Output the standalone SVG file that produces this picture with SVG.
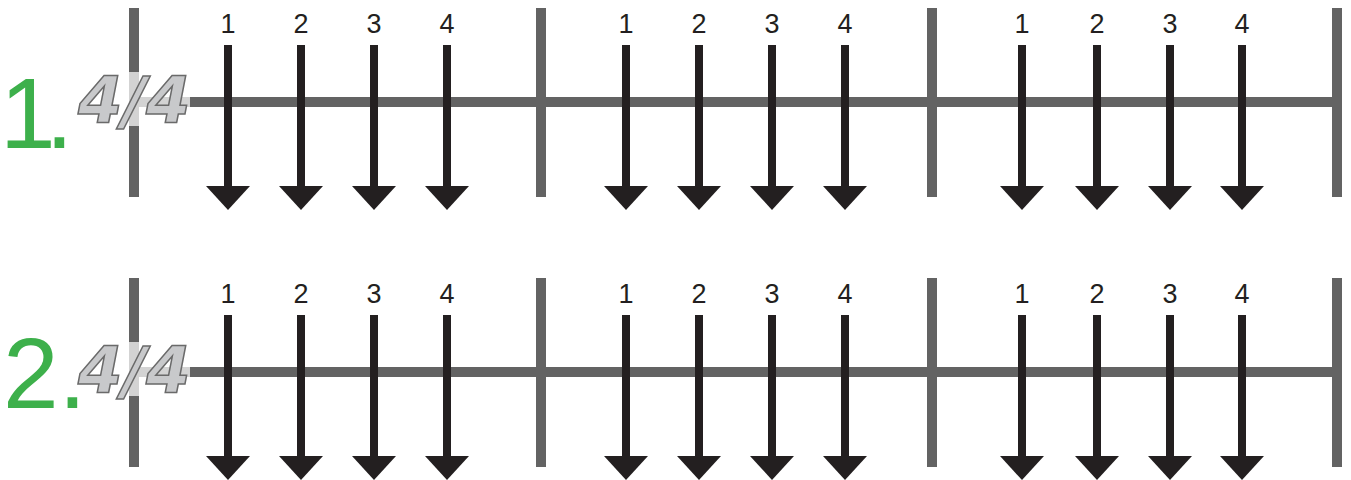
<svg xmlns="http://www.w3.org/2000/svg" width="1351" height="480" viewBox="0 0 1351 480">
<style>
.bar{stroke:#636363;stroke-width:10;fill:none}
.shaft{stroke:#231f20;stroke-width:8}
.head{fill:#231f20}
.num{font-family:"Liberation Sans",Arial,sans-serif;font-size:27px;fill:#231f20;text-anchor:middle}
.ts{font-family:"DejaVu Sans",sans-serif;font-weight:bold;font-style:oblique;font-size:64px;fill:#c8c9cb;stroke:#6a6a6a;stroke-width:1.5}
.lab{font-family:"Liberation Sans",Arial,sans-serif;font-size:100px;fill:#3db04b}
</style>
<defs>
<g id="arrow">
<line class="shaft" x1="0" y1="45" x2="0" y2="190"/>
<polygon class="head" points="-22,186 22,186 0,210"/>
</g>
<g id="row">
<line class="bar" x1="134" y1="102" x2="1337" y2="102"/>
<line class="bar" x1="134" y1="8" x2="134" y2="197"/>
<line class="bar" x1="541" y1="8" x2="541" y2="197"/>
<line class="bar" x1="932" y1="8" x2="932" y2="197"/>
<line class="bar" x1="1337" y1="8" x2="1337" y2="197"/>
<rect x="128" y="72" width="62" height="54" fill="#ffffff" opacity="0.72"/>
<use href="#arrow" x="228"/><use href="#arrow" x="301"/><use href="#arrow" x="374"/><use href="#arrow" x="447"/>
<use href="#arrow" x="626"/><use href="#arrow" x="699"/><use href="#arrow" x="772"/><use href="#arrow" x="845"/>
<use href="#arrow" x="1022"/><use href="#arrow" x="1097"/><use href="#arrow" x="1170"/><use href="#arrow" x="1242"/>
<text class="num" x="228" y="33">1</text><text class="num" x="301" y="33">2</text><text class="num" x="374" y="33">3</text><text class="num" x="447" y="33">4</text>
<text class="num" x="626" y="33">1</text><text class="num" x="699" y="33">2</text><text class="num" x="772" y="33">3</text><text class="num" x="845" y="33">4</text>
<text class="num" x="1022" y="33">1</text><text class="num" x="1097" y="33">2</text><text class="num" x="1170" y="33">3</text><text class="num" x="1242" y="33">4</text>
<text class="ts" x="78" y="123">4/4</text>
</g>
</defs>
<g id="row1">
<use href="#row"/>
<text class="lab" x="0" y="148" letter-spacing="-10">1.</text>
</g>
<g id="row2" transform="translate(0,270)">
<use href="#row"/>
<text class="lab" x="3" y="138">2.</text>
</g>
</svg>
